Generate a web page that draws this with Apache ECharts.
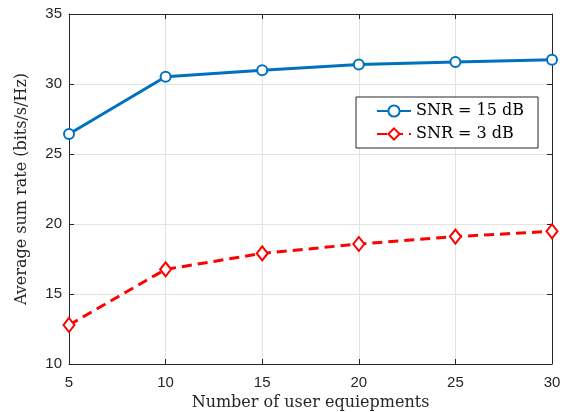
<!DOCTYPE html>
<html>
<head>
<meta charset="utf-8">
<script src="https://cdn.jsdelivr.net/npm/echarts@6/dist/echarts.min.js"></script>
<style>
  html, body { margin: 0; padding: 0; background: #fff; }
  #chart { width: 562px; height: 412px; }
</style>
</head>
<body>
<div id="chart"></div>
<script>
// Number of user equipments on the horizontal axis
const users = [5, 10, 15, 20, 25, 30];
// Average sum rate (bits/s/Hz) for each SNR level
const snr15 = [26.43, 30.52, 30.98, 31.4, 31.57, 31.74];
const snr3 = [12.79, 16.76, 17.9, 18.57, 19.1, 19.48];
const seriesNames = ['SNR = 15 dB', 'SNR = 3 dB'];

const axisColor = '#262626';
const serif = '"DejaVu Serif", "Liberation Serif", serif';
const sans = '"Liberation Sans", Arial, sans-serif';

const chart = echarts.init(document.getElementById('chart'), null, { renderer: 'canvas' });

const pairs = (ys) => users.map((x, i) => [x, ys[i]]);

const baseAxis = {
  axisLine: { show: true, onZero: false, lineStyle: { color: axisColor, width: 1 } },
  axisTick: { show: true, inside: true, length: 5, lineStyle: { color: axisColor } },
};

chart.setOption({
  animation: false,
  backgroundColor: '#ffffff',
  grid: { left: 69, right: 10, top: 14, bottom: 48, containLabel: false, outerBoundsMode: 'none' },
  legend: {
    left: 356, top: 97,
    orient: 'vertical',
    backgroundColor: '#ffffff',
    borderColor: axisColor,
    borderWidth: 1,
    padding: [5, 14, 5, 20],
    itemGap: 5,
    itemWidth: 34,
    itemHeight: 14,
    textStyle: { fontFamily: serif, fontSize: 16, lineHeight: 18, color: '#000' },
    data: seriesNames,
  },
  xAxis: [
    Object.assign({}, baseAxis, {
      type: 'value', min: 5, max: 30, interval: 5, position: 'bottom',
      name: 'Number of user equiepments', nameLocation: 'middle', nameGap: 27,
      nameTextStyle: { fontFamily: serif, fontSize: 16, color: '#262626' },
      axisLabel: { fontFamily: sans, fontSize: 15, color: '#262626', margin: 11 },
      splitLine: { show: true, lineStyle: { color: '#e3e3e3', width: 1 } },
    }),
    Object.assign({}, baseAxis, {
      type: 'value', min: 5, max: 30, interval: 5, position: 'top',
      axisLabel: { show: false }, splitLine: { show: false },
    }),
  ],
  yAxis: [
    Object.assign({}, baseAxis, {
      type: 'value', min: 10, max: 35, interval: 5, position: 'left',
      name: 'Average sum rate (bits/s/Hz)', nameLocation: 'middle', nameGap: 39,
      nameTextStyle: { fontFamily: serif, fontSize: 16, color: '#262626' },
      axisLabel: { fontFamily: sans, fontSize: 15, color: '#262626', margin: 7 },
      splitLine: { show: true, lineStyle: { color: '#e3e3e3', width: 1 } },
    }),
    Object.assign({}, baseAxis, {
      type: 'value', min: 10, max: 35, interval: 5, position: 'right',
      axisLabel: { show: false }, splitLine: { show: false },
    }),
  ],
  series: [
    {
      name: seriesNames[0],
      type: 'line',
      data: pairs(snr15),
      symbol: 'emptyCircle',
      symbolSize: 10,
      showAllSymbol: true,
      lineStyle: { color: '#0072bd', width: 3 },
      itemStyle: { color: '#0072bd', borderColor: '#0072bd', borderWidth: 2.5 },
      z: 3,
    },
    {
      name: seriesNames[1],
      type: 'line',
      data: pairs(snr3),
      symbol: 'emptyDiamond',
      symbolSize: [11, 14],
      showAllSymbol: true,
      lineStyle: { color: '#ff0000', width: 3, type: [10, 6] },
      itemStyle: { color: '#ff0000', borderColor: '#ff0000', borderWidth: 2.5 },
      z: 3,
    },
  ],
});
</script>
</body>
</html>
